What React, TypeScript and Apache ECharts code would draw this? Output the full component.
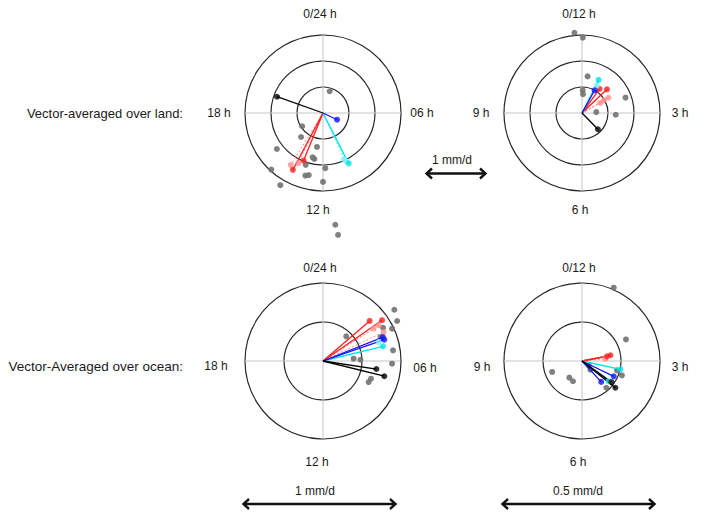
import React, { useEffect, useRef } from "react";
import * as echarts from "echarts";

// ---------- DATA: [amplitude, hour] ----------
// Land, diurnal harmonic (0-24 h, rings 0.4 / 0.8 / 1.2)
const landDiurnalDots = [
  [0.35, 1.14], [0.38, 15.84], [0.5, 14.83], [0.53, 12.67], [0.9, 15.47],
  [0.7, 12.88], [0.72, 12.71], [0.84, 13.23], [1.18, 14.83], [0.85, 11.84],
  [1.0, 13.05], [0.98, 12.86], [1.06, 12.0], [1.29, 14.04], [1.73, 11.58], [1.89, 11.53],
];
const landDiurnalRed = [[0.99, 13.86], [0.79, 13.48]];
const landDiurnalRedLight = [[0.94, 14.12], [0.86, 13.75]];
const landDiurnalCyan = [[0.87, 10.2]];
const landDiurnalCyanLight = [[0.82, 10.3], [0.78, 10.39]];
const landDiurnalBlue = [[0.24, 7.7]];
const landDiurnalBlack = [[0.75, 19.3]];

// Land, semidiurnal harmonic (0-12 h, rings 0.4 / 0.8 / 1.2)
const landSemiDots = [
  [1.24, 11.82], [1.16, 0.02], [0.57, 0.29], [0.35, 0.06], [0.29, 0.1],
  [0.71, 2.35], [0.22, 2.87], [0.52, 3.1],
];
const landSemiRed = [[0.53, 1.55], [0.46, 1.2]];
const landSemiRedLight = [[0.47, 2.0], [0.39, 1.99], [0.32, 2.04]];
const landSemiCyan = [[0.57, 0.89]];
const landSemiCyanLight = [[0.48, 0.95]];
const landSemiBlue = [[0.4, 0.97]];
const landSemiBlack = [[0.35, 4.52]];

// Ocean, diurnal harmonic (0-24 h, rings 0.25 / 0.5)
const oceanDiurnalDots = [
  [0.563, 3.62], [0.54, 4.11], [0.44, 4.07], [0.489, 4.33], [0.217, 2.89],
  [0.454, 5.42], [0.197, 5.71], [0.24, 5.87], [0.443, 6.15], [0.322, 7.65],
  [0.328, 7.35], [0.4, 4.49],
];
const oceanDiurnalRed = [[0.394, 3.29], [0.46, 3.69]];
const oceanDiurnalRedLight = [[0.43, 4.3], [0.385, 3.83], [0.424, 3.82]];
const oceanDiurnalCyan = [[0.396, 5.08]];
const oceanDiurnalCyanLight = [[0.377, 4.75]];
const oceanDiurnalBlue = [[0.416, 4.72], [0.414, 4.55]];
const oceanDiurnalBlack = [[0.346, 6.57], [0.405, 6.93]];

// Ocean, semidiurnal harmonic (0-12 h, rings 0.125 / 0.25)
const oceanSemiDots = [
  [0.256, 0.78], [0.157, 2.13], [0.102, 8.33], [0.067, 7.24], [0.071, 6.8],
  [0.0385, 4.54], [0.136, 3.66], [0.116, 3.5], [0.116, 4.59], [0.026, 4.09],
];
const oceanSemiRed = [[0.0815, 2.65], [0.093, 2.62]];
const oceanSemiRedLight = [[0.075, 2.81]];
const oceanSemiCyan = [[0.126, 3.41], [0.107, 4.24]];
const oceanSemiBlue = [[0.113, 3.86], [0.091, 4.58]];
const oceanSemiBlack = [[0.137, 4.29], [0.116, 4.19]];

// Tick labels
const diurnalLabels = ["0/24 h", "06 h", "12 h", "18 h"];
const semiLabels = ["0/12 h", "3 h", "6 h", "9 h"];
const rowLabels = ["Vector-averaged over land:", "Vector-Averaged over ocean:"];
const scaleLabels = ["1 mm/d", "1 mm/d", "0.5 mm/d"];

const RED = "#ff1f1f";
const RED_L = "#ff8c8c";
const CYAN = "#00e3e8";
const CYAN_L = "#7ff1f4";
const BLUE = "#1414ff";
const BLACK = "#000000";
const GREY = "#727272";
const FONT = '"Liberation Sans", Arial, Helvetica, sans-serif';

export default function App() {
  const ref = useRef<HTMLDivElement>(null);

  useEffect(() => {
    const chart = echarts.init(ref.current!, null, { renderer: "svg" });
    const R = 78;
    const vec = (data: number[][], color: string, dashed: boolean) => ({ data, color, dashed });
    const panels = [
      {
        center: [323, 113], period: 24, max: 1.2, interval: 0.4, cross: [85, 80, 127, 80],
        dots: landDiurnalDots,
        vectors: [
          vec(landDiurnalRedLight, RED_L, true), vec(landDiurnalRed, RED, false),
          vec(landDiurnalCyanLight, CYAN_L, true), vec(landDiurnalCyan, CYAN, false),
          vec(landDiurnalBlue, BLUE, false), vec(landDiurnalBlack, BLACK, false),
        ],
      },
      {
        center: [582, 113], period: 12, max: 1.2, interval: 0.4, cross: [80, 78, 85, 79],
        dots: landSemiDots,
        vectors: [
          vec(landSemiRedLight, RED_L, true), vec(landSemiRed, RED, false),
          vec(landSemiCyanLight, CYAN_L, true), vec(landSemiCyan, CYAN, false),
          vec(landSemiBlue, BLUE, false), vec(landSemiBlack, BLACK, false),
        ],
      },
      {
        center: [323, 361], period: 24, max: 0.5, interval: 0.25, cross: [78, 77, 79, 78],
        dots: oceanDiurnalDots,
        vectors: [
          vec(oceanDiurnalRedLight, RED_L, true), vec(oceanDiurnalRed, RED, false),
          vec(oceanDiurnalCyanLight, CYAN_L, true), vec(oceanDiurnalCyan, CYAN, false),
          vec(oceanDiurnalBlue, BLUE, false), vec(oceanDiurnalBlack, BLACK, false),
        ],
      },
      {
        center: [582, 361], period: 12, max: 0.25, interval: 0.125, cross: [78, 78, 77, 79],
        dots: oceanSemiDots,
        vectors: [
          vec(oceanSemiRedLight, RED_L, true), vec(oceanSemiRed, RED, false),
          vec(oceanSemiCyan, CYAN, false), vec(oceanSemiBlue, BLUE, false),
          vec(oceanSemiBlack, BLACK, false),
        ],
      },
    ];

    const series: any[] = [];
    panels.forEach((p, i) => {
      const u = p.max / R;
      const [up, right, down, left] = p.cross;
      const crossStyle = { color: "#c4c4c4", width: 1 };
      series.push({
        type: "line", polarIndex: i, coordinateSystem: "polar", symbol: "none", clip: false, silent: true, z: 1,
        data: [[up * u, 0], [down * u, p.period / 2]], lineStyle: crossStyle,
      });
      series.push({
        type: "line", polarIndex: i, coordinateSystem: "polar", symbol: "none", clip: false, silent: true, z: 1,
        data: [[right * u, p.period / 4], [left * u, (3 * p.period) / 4]], lineStyle: crossStyle,
      });
      series.push({
        type: "scatter", polarIndex: i, coordinateSystem: "polar", clip: false, z: 2,
        data: p.dots, symbolSize: 6, itemStyle: { color: GREY, opacity: 0.9 },
      });
      p.vectors.forEach((v) => {
        v.data.forEach((pt) => {
          series.push({
            type: "line", polarIndex: i, coordinateSystem: "polar", symbol: "none", clip: false, z: 3,
            data: [[0, 0], pt],
            lineStyle: { color: v.color, width: v.dashed ? 1 : 1.3, type: v.dashed ? [2, 2] : "solid" },
          });
        });
        series.push({
          type: "scatter", polarIndex: i, coordinateSystem: "polar", clip: false, z: 4,
          data: v.data, symbolSize: 6, itemStyle: { color: v.color },
        });
      });
    });

    const txt = (text: string, x: number, y: number, size = 12, align = "center", extra: any = {}) => ({
      type: "text", x, y, z: 100,
      style: { text, fill: "#1a1a1a", font: `${size}px ${FONT}`, align, verticalAlign: "middle", ...extra },
    });
    const arrow = (x1: number, x2: number, y: number) => ({
      type: "group", z: 100,
      children: [
        { type: "line", shape: { x1: x1 + 1, y1: y, x2: x2 - 1, y2: y }, style: { stroke: "#111", lineWidth: 2.6 } },
        { type: "polyline", shape: { points: [[x1 + 6, y - 5], [x1 + 0.5, y], [x1 + 6, y + 5]] }, style: { stroke: "#111", lineWidth: 2.4, fill: null } },
        { type: "polyline", shape: { points: [[x2 - 6, y - 5], [x2 - 0.5, y], [x2 - 6, y + 5]] }, style: { stroke: "#111", lineWidth: 2.4, fill: null } },
      ],
    });

    const graphic: any[] = [];
    // top row (land)
    graphic.push(txt(diurnalLabels[0], 320, 14));
    graphic.push(txt(diurnalLabels[1], 422, 113));
    graphic.push(txt(diurnalLabels[2], 318, 210, 12, "center", { backgroundColor: "#fff", padding: [1, 0] }));
    graphic.push(txt(diurnalLabels[3], 219, 113));
    graphic.push(txt(semiLabels[0], 579, 14));
    graphic.push(txt(semiLabels[1], 680, 113));
    graphic.push(txt(semiLabels[2], 580, 210));
    graphic.push(txt(semiLabels[3], 481, 113));
    graphic.push(txt(rowLabels[0], 183, 113, 13, "right"));
    // bottom row (ocean)
    graphic.push(txt(diurnalLabels[0], 320, 268));
    graphic.push(txt(diurnalLabels[1], 425, 368));
    graphic.push(txt(diurnalLabels[2], 317, 462));
    graphic.push(txt(diurnalLabels[3], 216, 366));
    graphic.push(txt(semiLabels[0], 579, 268));
    graphic.push(txt(semiLabels[1], 680, 367));
    graphic.push(txt(semiLabels[2], 578, 462));
    graphic.push(txt(semiLabels[3], 482, 367));
    graphic.push(txt(rowLabels[1], 183, 366, 13.5, "right"));
    // scale bars
    graphic.push(txt(scaleLabels[0], 452, 160));
    graphic.push(arrow(426, 486, 173.5));
    graphic.push(txt(scaleLabels[1], 315, 491));
    graphic.push(arrow(243, 396, 504));
    graphic.push(txt(scaleLabels[2], 578, 491));
    graphic.push(arrow(502, 655, 504));

    chart.setOption({
      animation: false,
      backgroundColor: "#ffffff",
      polar: panels.map((p) => ({ center: p.center, radius: R })),
      radiusAxis: panels.map((p, i) => ({
        polarIndex: i, type: "value", min: 0, max: p.max, interval: p.interval,
        axisLine: { show: false }, axisTick: { show: false }, axisLabel: { show: false },
        splitLine: { show: true, lineStyle: { color: "#262626", width: 1.2 } },
        splitArea: { show: false },
      })),
      angleAxis: panels.map((p, i) => ({
        polarIndex: i, type: "value", min: 0, max: p.period, startAngle: 90, clockwise: true,
        axisLine: { show: false }, axisTick: { show: false }, axisLabel: { show: false },
        splitLine: { show: false }, splitArea: { show: false },
      })),
      series,
      graphic,
    });
    return () => chart.dispose();
  }, []);

  return <div ref={ref} style={{ position: "absolute", left: 0, top: 0, width: 704, height: 513 }} />;
}
